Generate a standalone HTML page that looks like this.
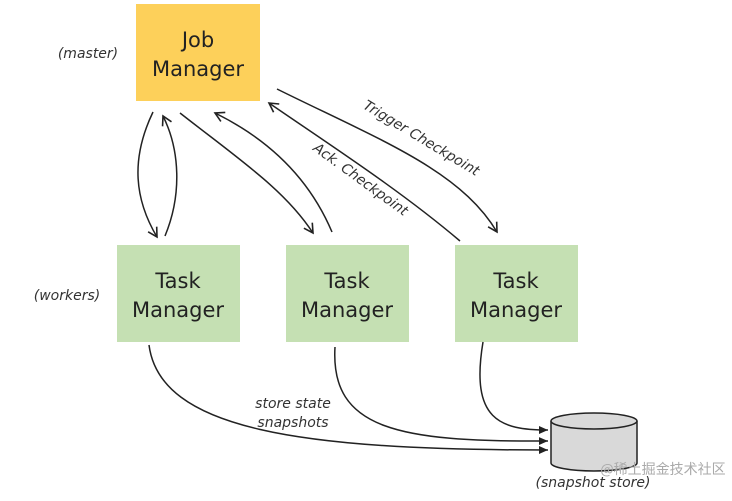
<!DOCTYPE html>
<html><head><style>
body{margin:0;background:#fff;width:732px;height:496px;overflow:hidden}
svg text{font-family:"DejaVu Sans","Liberation Sans","Noto Sans CJK SC",sans-serif}
</style></head><body>
<svg width="732" height="496" viewBox="0 0 732 496">
<defs><marker id="a" markerWidth="12" markerHeight="12" refX="10" refY="6" orient="auto" markerUnits="userSpaceOnUse"><path d="M1,1 L10,6 L1,11" fill="none" stroke="#222" stroke-width="1.6"/></marker>
<marker id="f" markerWidth="10" markerHeight="10" refX="9" refY="5" orient="auto" markerUnits="userSpaceOnUse"><path d="M0,1 L9,5 L0,9z" fill="#222"/></marker></defs>
<rect x="136" y="4" width="124" height="97" fill="#fdd05a"/>
<text x="198" y="47" font-size="21" text-anchor="middle" fill="#222">Job</text>
<text x="198" y="76" font-size="21" text-anchor="middle" fill="#222">Manager</text>
<g fill="#c5e0b3"><rect x="117" y="245" width="123" height="97"/><rect x="286" y="245" width="123" height="97"/><rect x="455" y="245" width="123" height="97"/></g>
<g font-size="21" text-anchor="middle" fill="#222">
<text x="178" y="288">Task</text><text x="178" y="317">Manager</text>
<text x="347" y="288">Task</text><text x="347" y="317">Manager</text>
<text x="516" y="288">Task</text><text x="516" y="317">Manager</text></g>
<g font-size="14" font-style="italic" fill="#333">
<text x="88" y="58" text-anchor="middle">(master)</text>
<text x="67" y="300" text-anchor="middle">(workers)</text>
<text x="293" y="408" text-anchor="middle">store state</text>
<text x="293" y="427" text-anchor="middle">snapshots</text>
<text x="593" y="487" text-anchor="middle">(snapshot store)</text>
<text transform="translate(419,142) rotate(31)" text-anchor="middle">Trigger Checkpoint</text>
<text transform="translate(358,183) rotate(36)" text-anchor="middle">Ack. Checkpoint</text>
</g>
<g fill="none" stroke="#222" stroke-width="1.5">
<path d="M153,112 C130,160 135,200 157,237" marker-end="url(#a)"/>
<path d="M165,236 C182,195 180,150 163,116" marker-end="url(#a)"/>
<path d="M180,113 C240,160 285,190 313,233" marker-end="url(#a)"/>
<path d="M332,232 C310,180 270,140 215,113" marker-end="url(#a)"/>
<path d="M460,241 C400,190 330,145 269,103" marker-end="url(#a)"/>
<path d="M277,89 C380,140 460,170 497,232" marker-end="url(#a)"/>
<path d="M149,345 C160,430 300,450 548,450" marker-end="url(#f)"/>
<path d="M335,347 C330,430 400,442 548,441" marker-end="url(#f)"/>
<path d="M483,342 C470,420 500,430 548,430" marker-end="url(#f)"/>
</g>
<path d="M551,421 L551,463 A43,8 0 0 0 637,463 L637,421" fill="#d9d9d9" stroke="#222" stroke-width="1.5"/>
<ellipse cx="594" cy="421" rx="43" ry="8" fill="#d9d9d9" stroke="#222" stroke-width="1.5"/>
<text x="663" y="474" font-size="14" text-anchor="middle" fill="#aaa" style="font-family:'Noto Sans CJK SC',sans-serif">@稀土掘金技术社区</text>
</svg>
</body></html>
